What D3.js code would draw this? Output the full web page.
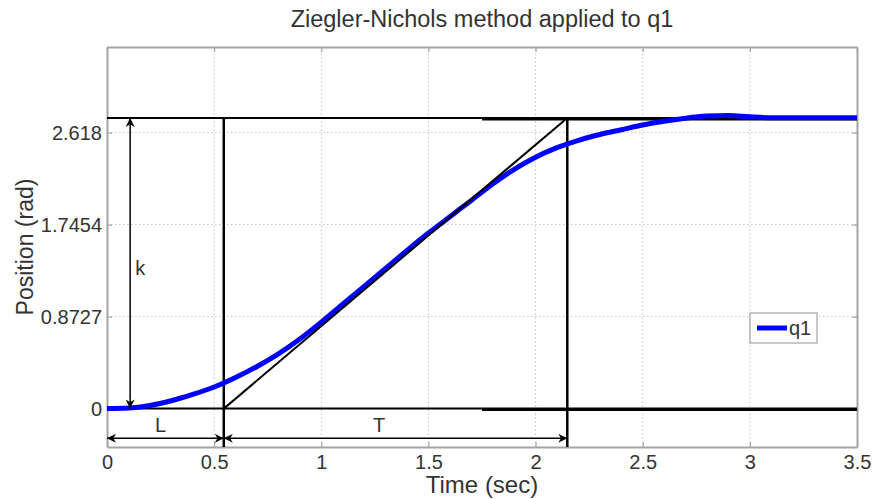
<!DOCTYPE html>
<html>
  <head>
    <meta charset="UTF-8" />
    <style>
      body {
        margin: 0;
        background: #fff;
      }
      svg text {
        font-family: 'Liberation Sans', Arial, sans-serif;
        fill: #333;
      }
    </style>
  </head>
  <body>
    <svg></svg>
    <script src="https://d3js.org/d3.v7.min.js"></script>
    <script>
      // step response of q1 (time in sec, position in rad)
      let time = [0, 0.1, 0.2, 0.3, 0.4, 0.5, 0.6, 0.7, 0.8, 0.9, 1.0, 1.1, 1.2, 1.3, 1.4, 1.5, 1.6, 1.7, 1.8, 1.9, 2.0, 2.1, 2.2, 2.3, 2.4, 2.5, 2.6, 2.7, 2.8, 2.9, 3.0, 3.1, 3.2, 3.3, 3.4, 3.5]
      let q1 = [0, 0.005, 0.03, 0.075, 0.135, 0.205, 0.295, 0.4, 0.52, 0.66, 0.82, 0.99, 1.16, 1.33, 1.5, 1.665, 1.82, 1.975, 2.13, 2.27, 2.385, 2.475, 2.545, 2.6, 2.645, 2.69, 2.725, 2.755, 2.775, 2.78, 2.768, 2.76, 2.76, 2.76, 2.76, 2.76]

      let xTicks = [0, 0.5, 1, 1.5, 2, 2.5, 3, 3.5]
      let yTicks = [0, 0.8727, 1.7454, 2.618]

      // Ziegler-Nichols construction
      let K = 2.757
      let L = 0.545
      let tEnd = 2.148
      let ssStart = 1.75 // start of the heavier steady-state segments
      let kArrowX = 0.108
      let arrowY = -0.282

      let width = 873,
        height = 499
      let margin = { top: 47, right: 16, bottom: 52, left: 107 }

      let svg = d3.select('svg').attr('width', width).attr('height', height)

      let x = d3.scaleLinear().domain([0, 3.5]).range([margin.left, width - margin.right])
      let y = d3.scaleLinear().domain([-0.364, 3.43]).range([height - margin.bottom, margin.top])

      let defs = svg.append('defs')
      defs
        .append('marker')
        .attr('id', 'head')
        .attr('viewBox', '0 0 10 10')
        .attr('refX', 10)
        .attr('refY', 5)
        .attr('markerWidth', 11)
        .attr('markerHeight', 9)
        .attr('markerUnits', 'userSpaceOnUse')
        .attr('orient', 'auto-start-reverse')
        .append('path')
        .attr('d', 'M0,0 L10,5 L0,10 L3,5 Z')
        .attr('fill', '#000')

      // grid
      let grid = svg.append('g').attr('stroke', '#c4c4c4').attr('stroke-dasharray', '1.5,2.5').attr('stroke-width', 1)
      grid
        .selectAll('.gx')
        .data(xTicks.slice(1, -1))
        .enter()
        .append('line')
        .attr('x1', (d) => x(d))
        .attr('x2', (d) => x(d))
        .attr('y1', y.range()[0])
        .attr('y2', y.range()[1])
      grid
        .selectAll('.gy')
        .data(yTicks)
        .enter()
        .append('line')
        .attr('x1', x.range()[0])
        .attr('x2', x.range()[1])
        .attr('y1', (d) => y(d))
        .attr('y2', (d) => y(d))

      // axes with inward ticks on all four sides
      let axisColor = '#a3a3a3'
      let axBottom = svg
        .append('g')
        .attr('transform', 'translate(0,' + y.range()[0] + ')')
        .call(d3.axisBottom(x).tickValues(xTicks).tickSizeInner(-5).tickSizeOuter(0).tickPadding(8).tickFormat(d3.format('')))
      let axTop = svg
        .append('g')
        .attr('transform', 'translate(0,' + y.range()[1] + ')')
        .call(d3.axisTop(x).tickValues(xTicks).tickSizeInner(-5).tickSizeOuter(0).tickFormat(''))
      let axLeft = svg
        .append('g')
        .attr('transform', 'translate(' + x.range()[0] + ',0)')
        .call(d3.axisLeft(y).tickValues(yTicks).tickSizeInner(-5).tickSizeOuter(0).tickPadding(5).tickFormat((d) => String(d)))
      let axRight = svg
        .append('g')
        .attr('transform', 'translate(' + x.range()[1] + ',0)')
        .call(d3.axisRight(y).tickValues(yTicks).tickSizeInner(-5).tickSizeOuter(0).tickFormat(''))
      ;[axBottom, axTop, axLeft, axRight].forEach((g) => {
        g.select('.domain').attr('stroke', axisColor).attr('stroke-width', 2)
        g.selectAll('.tick line').attr('stroke', axisColor).attr('stroke-width', 1.2)
        g.selectAll('text').attr('font-size', 20).attr('fill', '#333').attr('font-family', 'Liberation Sans, Arial, sans-serif')
      })

      // construction lines
      let lines = svg.append('g').attr('stroke', '#000').attr('fill', 'none')
      ;[0, K].forEach((v) => {
        lines
          .append('line')
          .attr('x1', x(0))
          .attr('x2', x(3.5))
          .attr('y1', y(v))
          .attr('y2', y(v))
          .attr('stroke-width', 2)
        lines
          .append('line')
          .attr('x1', x(ssStart))
          .attr('x2', x(3.5))
          .attr('y1', y(v) + 1)
          .attr('y2', y(v) + 1)
          .attr('stroke-width', 3)
      })
      ;[L, tEnd].forEach((t) => {
        lines
          .append('line')
          .attr('x1', x(t))
          .attr('x2', x(t))
          .attr('y1', y(K))
          .attr('y2', y.range()[0])
          .attr('stroke-width', 2.5)
      })

      // q1 curve
      let line = d3
        .line()
        .x((d, i) => x(time[i]))
        .y((d) => y(d))
        .curve(d3.curveMonotoneX)
      svg.append('path').datum(q1).attr('d', line).attr('fill', 'none').attr('stroke', '#0000ff').attr('stroke-width', 5)

      // tangent line
      svg
        .append('line')
        .attr('x1', x(L))
        .attr('y1', y(0))
        .attr('x2', x(tEnd))
        .attr('y2', y(K))
        .attr('stroke', '#000')
        .attr('stroke-width', 2)

      // dimension arrows
      let arrows = svg.append('g').attr('stroke', '#000').attr('stroke-width', 1.5)
      let dims = [
        [kArrowX, 0, kArrowX, K],
        [0, arrowY, L, arrowY],
        [L, arrowY, tEnd, arrowY],
      ]
      dims.forEach((d) => {
        arrows
          .append('line')
          .attr('x1', x(d[0]))
          .attr('y1', y(d[1]))
          .attr('x2', x(d[2]))
          .attr('y2', y(d[3]))
          .attr('marker-start', 'url(#head)')
          .attr('marker-end', 'url(#head)')
      })

      let notes = [
        ['k', 0.155, 1.32],
        ['L', 0.25, -0.17],
        ['T', 1.27, -0.17],
      ]
      svg
        .selectAll('.note')
        .data(notes)
        .enter()
        .append('text')
        .attr('x', (d) => x(d[1]))
        .attr('y', (d) => y(d[2]))
        .attr('text-anchor', 'middle')
        .attr('dominant-baseline', 'middle')
        .attr('font-size', 20)
        .text((d) => d[0])

      // legend
      let lg = svg.append('g').attr('transform', 'translate(750,313)')
      lg.append('rect').attr('width', 67).attr('height', 30).attr('fill', '#fff').attr('stroke', '#a3a3a3').attr('stroke-width', 1.2)
      lg.append('line').attr('x1', 7).attr('x2', 37).attr('y1', 15).attr('y2', 15).attr('stroke', '#0000ff').attr('stroke-width', 5)
      lg.append('text').attr('x', 39).attr('y', 22).attr('font-size', 20).text('q1')

      // titles
      svg
        .append('text')
        .attr('x', (x.range()[0] + x.range()[1]) / 2)
        .attr('y', 27)
        .attr('text-anchor', 'middle')
        .attr('font-size', 23.5)
        .text('Ziegler-Nichols method applied to q1')
      svg
        .append('text')
        .attr('x', (x.range()[0] + x.range()[1]) / 2)
        .attr('y', 493)
        .attr('text-anchor', 'middle')
        .attr('font-size', 24)
        .text('Time (sec)')
      svg
        .append('text')
        .attr('transform', 'translate(33,' + (y.range()[0] + y.range()[1]) / 2 + ') rotate(-90)')
        .attr('text-anchor', 'middle')
        .attr('font-size', 23)
        .text('Position (rad)')
    </script>
  </body>
</html>
